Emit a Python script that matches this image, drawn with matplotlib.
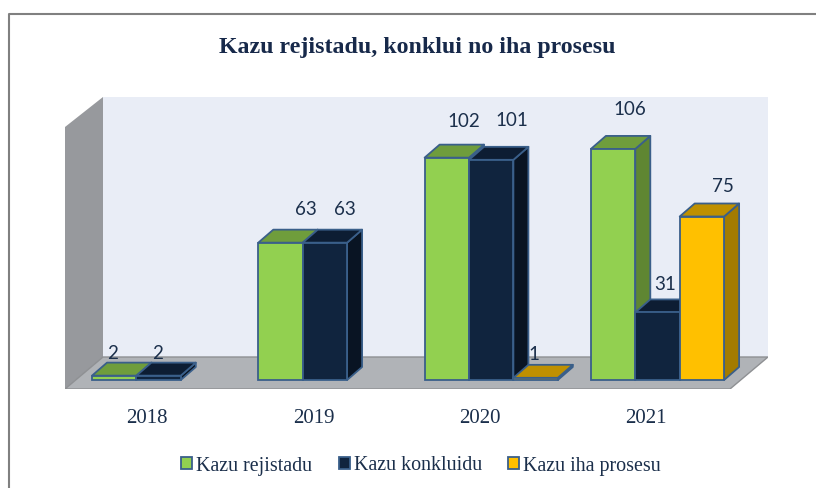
import matplotlib
matplotlib.use("Agg")
import matplotlib.pyplot as plt
from matplotlib.patches import Polygon, Patch

years = ["2018", "2019", "2020", "2021"]
series_names = ["Kazu rejistadu", "Kazu konkluidu", "Kazu iha prosesu"]
registered = [2, 63, 102, 106]
concluded = [2, 63, 101, 31]
in_process = [0, 0, 1, 75]
series = [registered, concluded, in_process]

front = ["#92D050", "#10243E", "#FFC000"]
top = ["#6F9D3C", "#0D1D33", "#BF9000"]
side = ["#5F8632", "#091423", "#A37B00"]
edge = "#3A5F8A"
text_c = "#1B2F4B"

# label nudges in pixels (group, series) relative to the top-centre of each bar's back edge
label_nudge = {
    (0, 0): (-17, 1), (0, 1): (-16, 1),
    (1, 0): (10, 12), (1, 1): (5, 12),
    (2, 0): (2, 15), (2, 1): (6, 18),
    (2, 2): (-17, 2),
    (3, 0): (2, 18), (3, 1): (-7, 6), (3, 2): (6, 9),
}

W, H = 816, 488
fig = plt.figure(figsize=(W / 100, H / 100), dpi=100, facecolor="white")

fig.add_artist(plt.Line2D([9 / W, 9 / W, 1], [0, 1 - 14 / H, 1 - 14 / H],
                          transform=fig.transFigure, color="#808080", lw=1.5))

L, R, T, B = 65, 768, 97, 389
ax = fig.add_axes([L / W, 1 - B / H, (R - L) / W, (B - T) / H])
ax.patch.set_visible(False)
for s in ax.spines.values():
    s.set_visible(False)

PX_X = 166.3
PX_Y = 2.18
X0 = 92
Y0 = 380
ax.set_xlim((L - X0) / PX_X, (R - X0) / PX_X)
ax.set_ylim((Y0 - B) / PX_Y, (Y0 - T) / PX_Y)

bw = 44.4 / PX_X
dx = 15 / PX_X
dy = 13 / PX_Y

xa, xb = ax.get_xlim()
ya, yb = ax.get_ylim()
wx = 38 / PX_X
fy = (B - 357) / PX_Y
ax.add_patch(Polygon([(xa + wx, ya + fy), (xb, ya + fy), (xb, yb), (xa + wx, yb)],
                     fc="#E9EDF6", ec="none", zorder=1))
ax.add_patch(Polygon([(xa, ya), (xa + wx, ya + fy), (xa + wx, yb), (xa, yb - 30 / PX_Y)],
                     fc="#97999D", ec="none", zorder=1))
ax.add_patch(Polygon([(xa, ya), (xa + wx, ya + fy), (xb, ya + fy), (xb - wx, ya)],
                     fc="#B0B3B7", ec="#8E9093", lw=1, zorder=1))

z = 3
for g in range(len(years)):
    for i, vals in enumerate(series):
        v = vals[g]
        if v <= 0:
            continue
        x = g + i * bw
        lw = 1.3
        ax.add_patch(Polygon([(x + bw, 0), (x + bw + dx, dy), (x + bw + dx, v + dy), (x + bw, v)],
                             fc=side[i], ec=edge, lw=lw, zorder=z, joinstyle="round"))
        ax.add_patch(Polygon([(x, v), (x + dx, v + dy), (x + bw + dx, v + dy), (x + bw, v)],
                             fc=top[i], ec=edge, lw=lw, zorder=z, joinstyle="round"))
        ax.bar(x, v, width=bw, align="edge", color=front[i], edgecolor=edge, linewidth=lw, zorder=z + 1)
        z += 2

for g in range(len(years)):
    for i, vals in enumerate(series):
        v = vals[g]
        if v <= 0:
            continue
        x = g + i * bw + bw / 2 + dx
        nx, ny = label_nudge[(g, i)]
        ax.annotate(str(v), (x, v + dy), xytext=(nx, ny), textcoords="offset pixels",
                    ha="center", va="bottom", fontsize=13.5, family="Lato", color=text_c, zorder=50)

ax.set_xticks([g + 1.5 * bw - 11.5 / PX_X for g in range(len(years))])
ax.set_xticklabels(years, family="Liberation Serif", fontsize=15, color=text_c)
ax.set_yticks([])
ax.tick_params(axis="x", length=0, pad=14.5)

fig.text(417 / W, 1 - 47 / H, "Kazu rejistadu, konklui no iha prosesu", ha="center", va="center",
         family="Liberation Serif", fontweight="bold", fontsize=17.2, color="#17294A")

handles = [Patch(fc=front[i], ec=edge, lw=1.3, label=series_names[i]) for i in range(3)]
fig.legend(handles=handles, loc="center", bbox_to_anchor=(421 / W, 1 - 466 / H), ncol=3, frameon=False,
           prop={"family": "Liberation Serif", "size": 14.4}, labelcolor=text_c,
           handlelength=0.55, handleheight=0.55, handletextpad=0.2, columnspacing=1.3)

fig.savefig("out.png", dpi=100, facecolor="white")
